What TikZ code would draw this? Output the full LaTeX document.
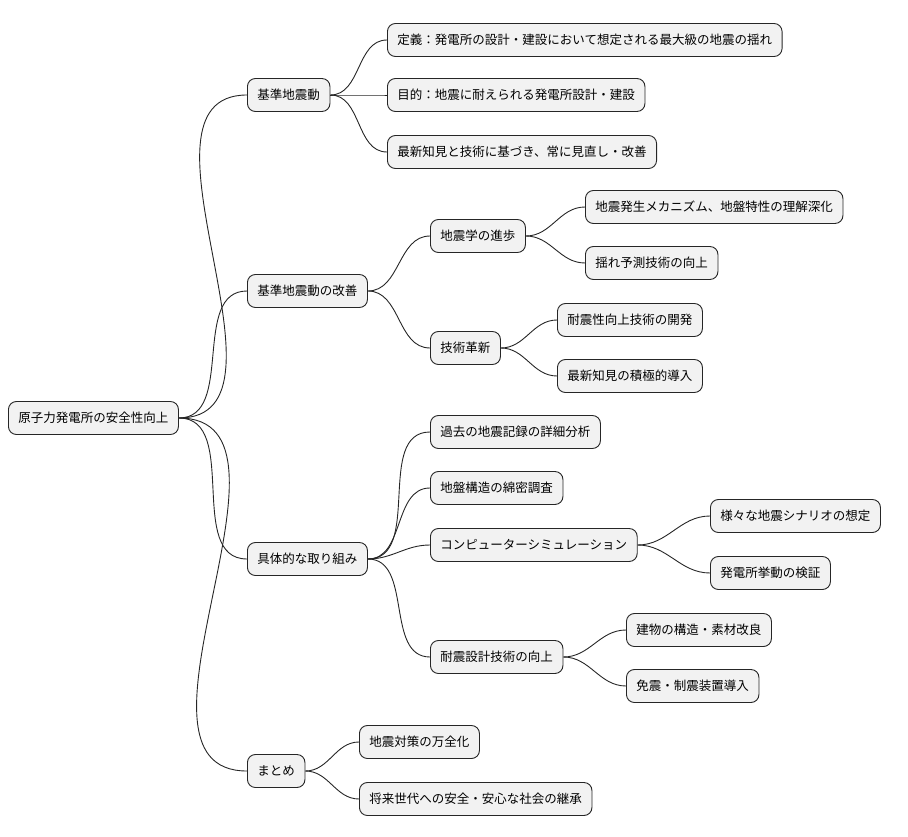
\documentclass[tikz,border=0pt]{standalone}
\usepackage{fontspec}
\setmainfont{Noto Sans CJK JP}
\begin{document}
\begin{tikzpicture}[x=1pt,y=-1pt,
  box/.style={draw=black!85,fill=black!5,rounded corners=8pt,anchor=west,inner xsep=10pt,minimum height=33pt,font=\fontsize{12.5pt}{14pt}\selectfont,line width=0.9pt},
  lk/.style={draw=black!85,line width=0.9pt}]
\useasboundingbox (0,0) rectangle (908,837);
\node[box] (r) at (8,418) {原子力発電所の安全性向上};
\node[box] (a) at (247,95) {基準地震動};
\node[box] (b) at (247,291) {基準地震動の改善};
\node[box] (c) at (247,559) {具体的な取り組み};
\node[box] (d) at (247,771) {まとめ};
\node[box] (a1) at (387,40) {定義：発電所の設計・建設において想定される最大級の地震の揺れ};
\node[box] (a2) at (387,95) {目的：地震に耐えられる発電所設計・建設};
\node[box] (a3) at (387,152) {最新知見と技術に基づき、常に見直し・改善};
\node[box] (b1) at (430,236) {地震学の進歩};
\node[box] (b2) at (430,348) {技術革新};
\node[box] (b11) at (585,207) {地震発生メカニズム、地盤特性の理解深化};
\node[box] (b12) at (585,263) {揺れ予測技術の向上};
\node[box] (b21) at (557,320) {耐震性向上技術の開発};
\node[box] (b22) at (557,376) {最新知見の積極的導入};
\node[box] (c1) at (430,432) {過去の地震記録の詳細分析};
\node[box] (c2) at (430,488) {地盤構造の綿密調査};
\node[box] (c3) at (430,545) {コンピューターシミュレーション};
\node[box] (c4) at (430,657) {耐震設計技術の向上};
\node[box] (c31) at (710,516) {様々な地震シナリオの想定};
\node[box] (c32) at (710,573) {発電所挙動の検証};
\node[box] (c41) at (626,630) {建物の構造・素材改良};
\node[box] (c42) at (626,686) {免震・制震装置導入};
\node[box] (d1) at (359,742) {地震対策の万全化};
\node[box] (d2) at (359,799) {将来世代への安全・安心な社会の継承};
\foreach \p/\c in {r/a,r/b,r/c,r/d,a/a1,a/a2,a/a3,b/b1,b/b2,b1/b11,b1/b12,b2/b21,b2/b22,c/c1,c/c2,c/c3,c/c4,c3/c31,c3/c32,c4/c41,c4/c42,d/d1,d/d2}
  \draw[lk] (\p.east) to[out=0,in=180] (\c.west);
\end{tikzpicture}
\end{document}
